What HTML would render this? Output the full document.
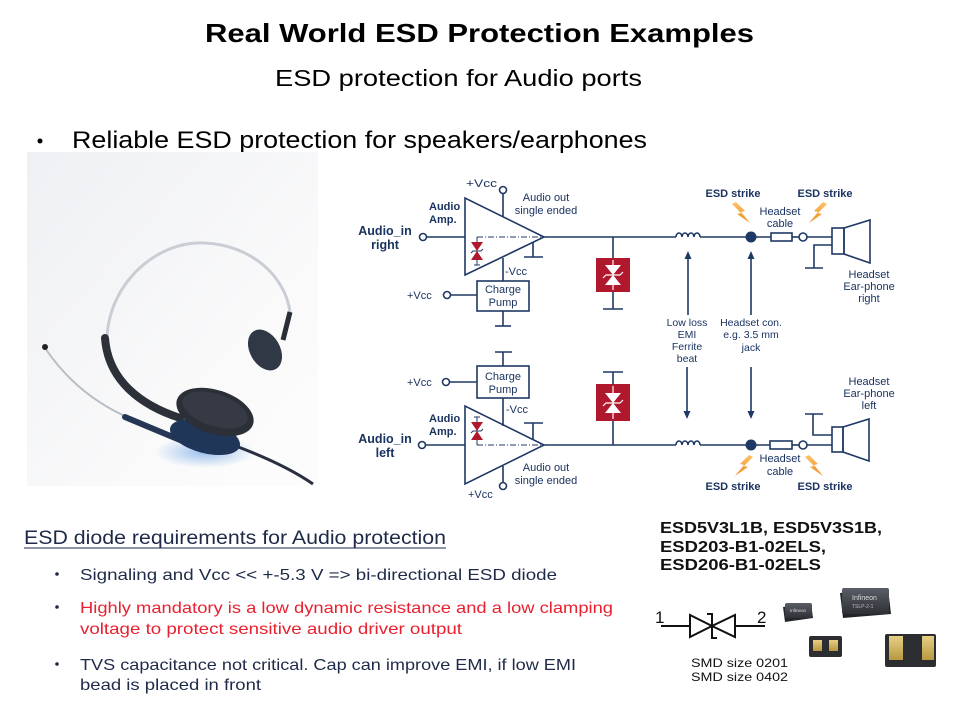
<!DOCTYPE html>
<html><head><meta charset="utf-8"><style>
html,body{margin:0;padding:0;background:#fff;}
svg{display:block;}
</style></head><body>
<svg width="960" height="720" viewBox="0 0 960 720" xmlns="http://www.w3.org/2000/svg" font-family="'Liberation Sans', sans-serif">
<defs>
<linearGradient id="bg" x1="0" y1="0" x2="1" y2="1"><stop offset="0" stop-color="#eef0f3"/><stop offset="0.6" stop-color="#f9f9fa"/><stop offset="1" stop-color="#fdfdfd"/></linearGradient>
<radialGradient id="glow" cx="0.5" cy="0.5" r="0.5"><stop offset="0" stop-color="#4d8fe0" stop-opacity="0.55"/><stop offset="1" stop-color="#4d8fe0" stop-opacity="0"/></radialGradient>
<linearGradient id="bolt" x1="0" y1="0" x2="0" y2="1"><stop offset="0" stop-color="#fbc36a"/><stop offset="1" stop-color="#f08a1c"/></linearGradient>
<linearGradient id="chip" x1="0" y1="0" x2="0" y2="1"><stop offset="0" stop-color="#5a5e66"/><stop offset="1" stop-color="#2e3035"/></linearGradient>
<linearGradient id="pad" x1="0" y1="0" x2="0" y2="1"><stop offset="0" stop-color="#e6cf86"/><stop offset="1" stop-color="#b8983f"/></linearGradient>
<polygon id="bl" points="0,0 9,9 5,10 14,21 1,12 5,11 -4,2"/>
</defs>

<!-- Titles -->
<text x="205" y="42" font-size="26" font-weight="bold" fill="#000" textLength="549" lengthAdjust="spacingAndGlyphs">Real World ESD Protection Examples</text>
<text x="275" y="86" font-size="23" fill="#000" textLength="367" lengthAdjust="spacingAndGlyphs">ESD protection for Audio ports</text>
<circle cx="40" cy="141" r="2.5" fill="#000"/>
<text x="72" y="148" font-size="24" fill="#000" textLength="575" lengthAdjust="spacingAndGlyphs">Reliable ESD protection for speakers/earphones</text>

<!-- Headset photo -->
<rect x="27" y="152" width="291" height="334" fill="url(#bg)"/>
<ellipse cx="205" cy="452" rx="50" ry="16" fill="url(#glow)"/>
<path d="M107,337 C110,280 160,240 205,243 C250,245 285,275 290,312" fill="none" stroke="#c9cdd4" stroke-width="3"/>
<path d="M105,338 C108,380 140,405 180,418" fill="none" stroke="#2c3038" stroke-width="8" stroke-linecap="round"/>
<path d="M290,312 L283,340" stroke="#2a2e36" stroke-width="5"/>
<ellipse cx="265" cy="350" rx="15" ry="22" transform="rotate(-30 265 350)" fill="#303845"/>
<path d="M45,348 C70,385 100,405 127,417" fill="none" stroke="#b9bec6" stroke-width="2"/>
<circle cx="45" cy="347" r="3" fill="#222"/>
<path d="M125,417 L180,440" stroke="#263656" stroke-width="6" stroke-linecap="round"/>
<path d="M233,445 C260,455 290,468 313,484" fill="none" stroke="#2a3040" stroke-width="3"/>
<ellipse cx="205" cy="437" rx="36" ry="16" transform="rotate(15 205 437)" fill="#1f3658"/>
<ellipse cx="215" cy="412" rx="40" ry="22" transform="rotate(18 215 412)" fill="#2b2f37"/>
<ellipse cx="215" cy="410" rx="34" ry="16" transform="rotate(18 215 410)" fill="#353a44"/>

<!-- Circuit -->
<g stroke="#1f3864" stroke-width="1.6" fill="none">
  <polygon points="465,198 465,275 544,237" fill="#fff"/>
  <line x1="426" y1="237" x2="465" y2="237"/>
  <circle cx="423" cy="237" r="3.5" fill="#fff"/>
  <line x1="503" y1="193" x2="503" y2="217"/>
  <circle cx="503" cy="190" r="3.5" fill="#fff"/>
  <line x1="533" y1="242" x2="533" y2="257"/>
  <line x1="524" y1="257" x2="543" y2="257"/>
  <line x1="503" y1="258" x2="503" y2="281"/>
  <rect x="477" y="281" width="52" height="30" fill="#fff"/>
  <line x1="450" y1="295" x2="477" y2="295"/>
  <circle cx="447" cy="295" r="3.5" fill="#fff"/>
  <line x1="503" y1="311" x2="503" y2="326"/>
  <line x1="495" y1="326" x2="511" y2="326"/>
  <line x1="544" y1="237" x2="676" y2="237"/>
  <path d="M676,237 a3,4 0 0 1 6,0 a3,4 0 0 1 6,0 a3,4 0 0 1 6,0 a3,4 0 0 1 6,0"/>
  <line x1="700" y1="237" x2="771" y2="237"/>
  <rect x="771" y="233" width="21" height="8" fill="#fff"/>
  <line x1="792" y1="237" x2="799" y2="237"/>
  <line x1="807" y1="237" x2="832" y2="237"/>
  <circle cx="803" cy="237" r="4" fill="#fff"/>
  <rect x="832" y="228" width="12" height="26" fill="#fff"/>
  <polygon points="844,228 870,220 870,263 844,254"/>
  <polyline points="832,245 814,245 814,268"/>
  <line x1="805" y1="268" x2="823" y2="268"/>
  <line x1="613" y1="237" x2="613" y2="309"/>
  <line x1="603" y1="309" x2="623" y2="309"/>
  <polygon points="465,406 465,484 544,445" fill="#fff"/>
  <line x1="425" y1="445" x2="465" y2="445"/>
  <circle cx="422" cy="445" r="3.5" fill="#fff"/>
  <line x1="503" y1="466" x2="503" y2="483"/>
  <circle cx="503" cy="486" r="3.5" fill="#fff"/>
  <line x1="533" y1="423" x2="533" y2="439"/>
  <line x1="524" y1="423" x2="543" y2="423"/>
  <line x1="503" y1="398" x2="503" y2="426"/>
  <rect x="477" y="366" width="52" height="32" fill="#fff"/>
  <line x1="449" y1="382" x2="477" y2="382"/>
  <circle cx="446" cy="382" r="3.5" fill="#fff"/>
  <line x1="503" y1="352" x2="503" y2="366"/>
  <line x1="495" y1="352" x2="512" y2="352"/>
  <line x1="544" y1="445" x2="676" y2="445"/>
  <path d="M676,445 a3,4 0 0 1 6,0 a3,4 0 0 1 6,0 a3,4 0 0 1 6,0 a3,4 0 0 1 6,0"/>
  <line x1="700" y1="445" x2="770" y2="445"/>
  <rect x="770" y="441" width="22" height="8" fill="#fff"/>
  <line x1="792" y1="445" x2="799" y2="445"/>
  <line x1="807" y1="445" x2="832" y2="445"/>
  <circle cx="803" cy="445" r="4" fill="#fff"/>
  <rect x="832" y="427" width="11" height="25" fill="#fff"/>
  <polygon points="843,427 869,419 869,461 843,452"/>
  <polyline points="832,435 813,435 813,414"/>
  <line x1="805" y1="414" x2="823" y2="414"/>
  <line x1="613" y1="372" x2="613" y2="445"/>
  <line x1="603" y1="372" x2="623" y2="372"/>
  <line x1="688" y1="258" x2="688" y2="315"/>
  <line x1="751" y1="258" x2="751" y2="315"/>
  <line x1="687" y1="367" x2="687" y2="412"/>
  <line x1="751" y1="367" x2="751" y2="412"/>
</g>
<g fill="#1f3864">
  <polygon points="688,251 684.5,259 691.5,259"/>
  <polygon points="751,251 747.5,259 754.5,259"/>
  <polygon points="687,419 683.5,411 690.5,411"/>
  <polygon points="751,419 747.5,411 754.5,411"/>
  <circle cx="751" cy="237" r="5.5"/>
  <circle cx="751" cy="445" r="5.5"/>
</g>
<g stroke="#1f3864" stroke-width="1" stroke-dasharray="6,2,1,2" fill="none">
  <line x1="477" y1="237" x2="543" y2="237"/>
  <line x1="477" y1="445" x2="543" y2="445"/>
</g>
<g stroke="#1f3864" stroke-width="1" fill="none">
  <line x1="477" y1="237" x2="477" y2="265"/>
  <line x1="474" y1="265" x2="480" y2="265"/>
  <line x1="477" y1="417" x2="477" y2="445"/>
  <line x1="474" y1="417" x2="480" y2="417"/>
</g>
<g fill="#b0182d">
  <polygon points="471,242 483,242 477,251"/>
  <polygon points="471,260 483,260 477,251"/>
  <polygon points="471,422 483,422 477,431"/>
  <polygon points="471,440 483,440 477,431"/>
</g>
<g stroke="#1f3864" stroke-width="1" fill="none">
  <path d="M471,253 L473,251 L481,251 L483,249"/>
  <path d="M471,433 L473,431 L481,431 L483,429"/>
</g>
<rect x="596" y="258" width="34" height="34" fill="#b0182d"/>
<rect x="596" y="384" width="34" height="37" fill="#b0182d"/>
<g fill="#fff">
  <polygon points="605,265 621,265 613,275"/>
  <polygon points="605,285 621,285 613,275"/>
  <polygon points="605,393 621,393 613,403"/>
  <polygon points="605,413 621,413 613,403"/>
</g>
<g stroke="#fff" stroke-width="1.2" fill="none">
  <line x1="613" y1="260" x2="613" y2="290"/>
  <path d="M603,278 L606,275 L620,275 L623,272"/>
  <line x1="613" y1="386" x2="613" y2="419"/>
  <path d="M603,406 L606,403 L620,403 L623,400"/>
</g>
<g fill="url(#bolt)">
  <use href="#bl" transform="translate(736,202)"/>
  <use href="#bl" transform="translate(823,202) scale(-1,1)"/>
  <use href="#bl" transform="translate(749,455) scale(-1,1)"/>
  <use href="#bl" transform="translate(809,455)"/>
</g>

<g fill="#1b3360" font-size="11">
  <text x="466" y="187" textLength="31" lengthAdjust="spacingAndGlyphs">+Vcc</text>
  <text x="546" y="201" text-anchor="middle">Audio out</text>
  <text x="546" y="214" text-anchor="middle">single ended</text>
  <text x="505" y="275">-Vcc</text>
  <text x="407" y="299">+Vcc</text>
  <text x="503" y="293" text-anchor="middle">Charge</text>
  <text x="503" y="306" text-anchor="middle">Pump</text>
  <text x="503" y="380" text-anchor="middle">Charge</text>
  <text x="503" y="393" text-anchor="middle">Pump</text>
  <text x="407" y="386">+Vcc</text>
  <text x="506" y="413">-Vcc</text>
  <text x="546" y="471" text-anchor="middle">Audio out</text>
  <text x="546" y="484" text-anchor="middle">single ended</text>
  <text x="468" y="498">+Vcc</text>
  <text x="780" y="215" text-anchor="middle">Headset</text>
  <text x="780" y="227" text-anchor="middle">cable</text>
  <text x="869" y="278" text-anchor="middle">Headset</text>
  <text x="869" y="290" text-anchor="middle">Ear-phone</text>
  <text x="869" y="302" text-anchor="middle">right</text>
  <text x="687" y="326" text-anchor="middle" font-size="10.5">Low loss</text>
  <text x="687" y="338" text-anchor="middle" font-size="10.5">EMI</text>
  <text x="687" y="350" text-anchor="middle" font-size="10.5">Ferrite</text>
  <text x="687" y="362" text-anchor="middle" font-size="10.5">beat</text>
  <text x="751" y="326" text-anchor="middle" font-size="10.5">Headset con.</text>
  <text x="751" y="338" text-anchor="middle" font-size="10.5">e.g. 3.5 mm</text>
  <text x="751" y="351" text-anchor="middle" font-size="10.5">jack</text>
  <text x="869" y="385" text-anchor="middle">Headset</text>
  <text x="869" y="397" text-anchor="middle">Ear-phone</text>
  <text x="869" y="409" text-anchor="middle">left</text>
  <text x="780" y="462" text-anchor="middle">Headset</text>
  <text x="780" y="475" text-anchor="middle">cable</text>
</g>
<g fill="#1b3360" font-size="11" font-weight="bold">
  <text x="429" y="210">Audio</text>
  <text x="429" y="223">Amp.</text>
  <text x="429" y="422">Audio</text>
  <text x="429" y="435">Amp.</text>
  <text x="733" y="197" text-anchor="middle">ESD strike</text>
  <text x="825" y="197" text-anchor="middle">ESD strike</text>
  <text x="733" y="490" text-anchor="middle">ESD strike</text>
  <text x="825" y="490" text-anchor="middle">ESD strike</text>
</g>
<g fill="#1b3360" font-size="12.5" font-weight="bold">
  <text x="385" y="235" text-anchor="middle">Audio_in</text>
  <text x="385" y="249" text-anchor="middle">right</text>
  <text x="385" y="443" text-anchor="middle">Audio_in</text>
  <text x="385" y="457" text-anchor="middle">left</text>
</g>

<text x="24" y="544" font-size="19.5" fill="#1f2a48" textLength="422" lengthAdjust="spacingAndGlyphs">ESD diode requirements for Audio protection</text>
<line x1="24" y1="548" x2="446" y2="548" stroke="#1f2a48" stroke-width="1"/>
<g font-size="16">
  <circle cx="57" cy="574" r="1.8" fill="#1f2a48"/>
  <text x="80" y="580" fill="#1f2a48" textLength="477" lengthAdjust="spacingAndGlyphs">Signaling and Vcc &lt;&lt; +-5.3 V =&gt; bi-directional ESD diode</text>
  <circle cx="57" cy="607" r="1.8" fill="#1f2a48"/>
  <text x="80" y="613" fill="#e8202f" textLength="533" lengthAdjust="spacingAndGlyphs">Highly mandatory is a low dynamic resistance and a low clamping</text>
  <text x="80" y="634" fill="#e8202f" textLength="382" lengthAdjust="spacingAndGlyphs">voltage to protect sensitive audio driver output</text>
  <circle cx="57" cy="664" r="1.8" fill="#1f2a48"/>
  <text x="80" y="670" fill="#1f2a48" textLength="496" lengthAdjust="spacingAndGlyphs">TVS capacitance not critical. Cap can improve EMI, if low EMI</text>
  <text x="80" y="690" fill="#1f2a48" textLength="181" lengthAdjust="spacingAndGlyphs">bead is placed in front</text>
</g>

<g font-size="15.5" font-weight="bold" fill="#111">
  <text x="660" y="533" textLength="222" lengthAdjust="spacingAndGlyphs">ESD5V3L1B, ESD5V3S1B,</text>
  <text x="660" y="552" textLength="166" lengthAdjust="spacingAndGlyphs">ESD203-B1-02ELS,</text>
  <text x="660" y="570" textLength="161" lengthAdjust="spacingAndGlyphs">ESD206-B1-02ELS</text>
</g>
<g font-size="17" fill="#111">
  <text x="655" y="623">1</text>
  <text x="757" y="623">2</text>
</g>
<g stroke="#111" stroke-width="2" fill="none">
  <line x1="661" y1="626" x2="690" y2="626"/>
  <polygon points="690,615 690,637 712,626"/>
  <polygon points="735,615 735,637 712,626"/>
  <path d="M707,614 L712,614 L712,638 L717,638"/>
  <line x1="735" y1="626" x2="765" y2="626"/>
</g>
<g font-size="12" fill="#111">
  <text x="691" y="667" textLength="97" lengthAdjust="spacingAndGlyphs">SMD size 0201</text>
  <text x="691" y="681" textLength="97" lengthAdjust="spacingAndGlyphs">SMD size 0402</text>
</g>
<g>
  <polygon points="783,607 811,603 813,618 785,622" fill="#25272b"/>
  <rect x="785" y="603" width="27" height="15" rx="2" fill="url(#chip)"/>
  <text x="790" y="612" font-size="4.5" fill="#ddd">Infineon</text>
  <polygon points="840,593 888,588 891,614 843,618" fill="#222428"/>
  <rect x="842" y="588" width="47" height="26" rx="2" fill="url(#chip)"/>
  <text x="852" y="600" font-size="7" fill="#ddd">Infineon</text>
  <text x="852" y="608" font-size="5" fill="#bbb">TSLP-2-1</text>
  <rect x="809" y="636" width="33" height="21" rx="2" fill="#2b2d31"/>
  <rect x="813" y="640" width="9" height="11" fill="url(#pad)"/>
  <rect x="829" y="640" width="9" height="11" fill="url(#pad)"/>
  <rect x="885" y="634" width="51" height="33" rx="2" fill="#2b2d31"/>
  <rect x="889" y="636" width="14" height="24" fill="url(#pad)"/>
  <rect x="922" y="636" width="12" height="24" fill="url(#pad)"/>
</g>
</svg>
</body></html>
